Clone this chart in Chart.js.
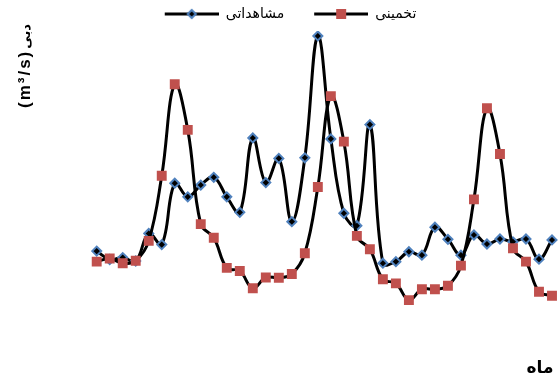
<!DOCTYPE html>
<html>
<head>
<meta charset="utf-8">
<script src="https://cdn.jsdelivr.net/npm/chart.js@4"></script>
<style>
  html, body { margin: 0; padding: 0; background: #fff; }
  #wrap { width: 559px; height: 386px; position: relative; }
</style>
</head>
<body>
<div id="wrap"><canvas id="c" width="559" height="386"></canvas></div>
<script>
// Months (36 monthly steps)
const months = ['1','2','3','4','5','6','7','8','9','10','11','12',
  '13','14','15','16','17','18','19','20','21','22','23','24',
  '25','26','27','28','29','30','31','32','33','34','35','36'];

// Observed discharge (مشاهداتی)
const observed = [29.0, 26.3, 26.9, 25.8, 34.7, 31.1, 50.9, 46.5, 50.3, 52.8, 46.5, 41.5,
  65.5, 51.1, 58.9, 38.5, 59.1, 98.4, 65.2, 41.2, 37.2, 69.8, 25.1, 25.6,
  28.8, 27.7, 36.7, 32.8, 27.7, 34.2, 31.3, 32.9, 32.0, 32.9, 26.4, 32.6];

// Estimated discharge (تخمینی)
const estimated = [25.6, 26.6, 25.1, 25.9, 32.3, 53.3, 82.8, 68.1, 37.7, 33.3, 23.6, 22.6,
  17.0, 20.5, 20.4, 21.6, 28.3, 49.7, 79.0, 64.3, 33.9, 29.6, 19.9, 18.6,
  13.2, 16.7, 16.7, 17.8, 24.3, 45.7, 75.1, 60.3, 29.9, 25.6, 15.9, 14.6];

const seriesNames = ['مشاهداتی', 'تخمینی'];
const yTitleLatin = '(m³/s)';
const yTitleFa = 'دبی';
const xTitle = 'ماه';

const BLUE = '#4F81BD';
const RED = '#C0504D';

function legendSymbol(kind) {
  const w = 77, h = 14, lead = 23;
  const cv = document.createElement('canvas');
  cv.width = w; cv.height = h;
  const g = cv.getContext('2d');
  g.strokeStyle = '#000'; g.lineWidth = 3;
  g.beginPath(); g.moveTo(lead, h / 2); g.lineTo(w, h / 2); g.stroke();
  const cx = lead + (w - lead) / 2, cy = h / 2;
  if (kind === 'diamond') {
    const r = 4;
    g.beginPath();
    g.moveTo(cx, cy - r); g.lineTo(cx + r, cy); g.lineTo(cx, cy + r); g.lineTo(cx - r, cy); g.closePath();
    g.fillStyle = '#000'; g.fill();
    g.strokeStyle = BLUE; g.lineWidth = 2; g.stroke();
  } else {
    g.fillStyle = RED;
    g.fillRect(cx - 5, cy - 5, 10, 10);
  }
  return cv;
}

const titlesPlugin = {
  id: 'axisTitles',
  afterDraw(chart) {
    const ctx = chart.ctx;
    ctx.save();
    ctx.fillStyle = '#000';
    // y title, rotated
    ctx.translate(25, 108);
    ctx.rotate(-Math.PI / 2);
    ctx.textAlign = 'left';
    ctx.textBaseline = 'middle';
    ctx.font = 'bold 17px "Liberation Sans", Arial, sans-serif';
    try { ctx.letterSpacing = '2px'; } catch (e) {}
    ctx.fillText(yTitleLatin, 0, 0);
    const w = ctx.measureText(yTitleLatin).width;
    try { ctx.letterSpacing = '0px'; } catch (e) {}
    ctx.font = 'bold 13px "DejaVu Sans", sans-serif';
    ctx.fillText(yTitleFa, w + 1, 2);
    ctx.restore();
    // x title
    ctx.save();
    ctx.fillStyle = '#000';
    ctx.font = 'bold 17px "DejaVu Sans", sans-serif';
    ctx.textAlign = 'center';
    ctx.textBaseline = 'middle';
    ctx.fillText(xTitle, 540, 369);
    ctx.restore();
  }
};

const symbols = [legendSymbol('diamond'), legendSymbol('square')];

new Chart(document.getElementById('c'), {
  type: 'line',
  data: {
    labels: months,
    datasets: [
      {
        label: seriesNames[0],
        data: observed,
        borderColor: '#000',
        borderWidth: 3,
        tension: 0.4,
        pointStyle: 'rectRot',
        pointRadius: 4.5,
        pointBackgroundColor: '#000',
        pointBorderColor: BLUE,
        pointBorderWidth: 2,
        order: 2
      },
      {
        label: seriesNames[1],
        data: estimated,
        borderColor: '#000',
        borderWidth: 3,
        tension: 0.4,
        pointStyle: 'rect',
        pointRadius: 7,
        pointBackgroundColor: RED,
        pointBorderColor: RED,
        pointBorderWidth: 0,
        order: 1
      }
    ]
  },
  options: {
    responsive: false,
    animation: false,
    devicePixelRatio: 1,
    layout: { padding: { left: 0, right: 1, top: 0, bottom: 0 } },
    scales: {
      x: {
        display: true, offset: false,
        ticks: { display: false },
        grid: { display: false, drawTicks: false },
        border: { display: false },
        afterFit(a) { a.height = 45; }
      },
      y: {
        display: true, min: 0, max: 100,
        ticks: { display: false },
        grid: { display: false, drawTicks: false },
        border: { display: false },
        afterFit(a) { a.width = 96.7; }
      }
    },
    plugins: {
      tooltip: { enabled: false },
      legend: {
        position: 'top',
        align: 'center',
        labels: {
          usePointStyle: true,
          pointStyleWidth: 77,
          padding: 7,
          color: '#000',
          font: { size: 14, family: '"DejaVu Sans", sans-serif' },
          generateLabels(chart) {
            return chart.data.datasets.map((ds, i) => ({
              text: ds.label,
              pointStyle: symbols[i],
              fillStyle: 'transparent',
              strokeStyle: 'transparent',
              lineWidth: 0,
              fontColor: '#000',
              hidden: false,
              datasetIndex: i
            }));
          }
        }
      }
    }
  },
  plugins: [titlesPlugin]
});
</script>
</body>
</html>
